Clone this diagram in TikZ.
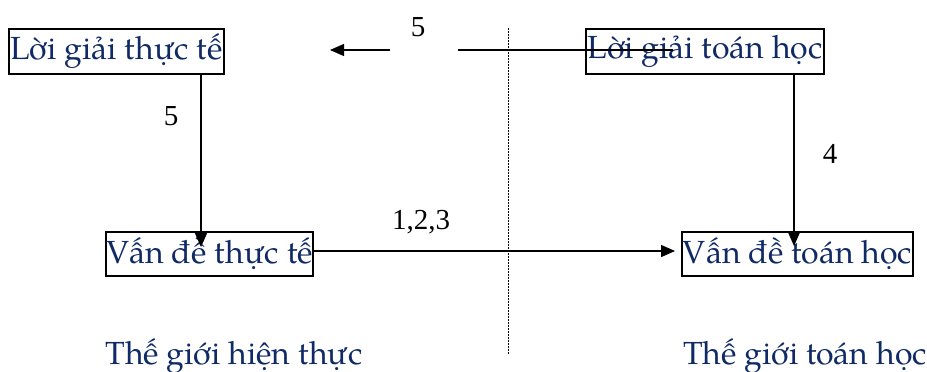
\documentclass[tikz,border=0pt]{standalone}
\usepackage{fontspec}
\setmainfont{TeX Gyre Pagella}
\newfontfamily\numfont{Liberation Serif}
\usetikzlibrary{arrows.meta}
\definecolor{txtblue}{RGB}{16,42,102}
\tikzset{
  box/.style={draw=black, line width=1.4pt, inner sep=0pt, text=txtblue,
    font=\fontsize{32}{36}\selectfont, fill=none},
  arr/.style={line width=1.4pt, -{Triangle[length=14pt,width=12pt]}},
  ln/.style={line width=1.4pt},
  num/.style={font=\numfont\fontsize{29}{32}\selectfont, inner sep=0pt},
  world/.style={text=txtblue, font=\fontsize{32}{36}\selectfont, inner sep=0pt}
}
\begin{document}
\begin{tikzpicture}[x=1pt,y=-1pt]
\useasboundingbox (0,0) rectangle (927,372);
% boxes
\node[box, minimum width=215pt, minimum height=45pt] (lgtt) at (116.5,51.5) {Lời giải thực tế};
\node[box, minimum width=238pt, minimum height=45pt] (lgth) at (705,51.5) {Lời giải toán học};
\node[box, minimum width=207pt, minimum height=44pt] (vdtt) at (209.5,254) {Vấn đề thực tế};
\node[box, minimum width=231pt, minimum height=44pt] (vdth) at (797.5,254) {Vấn đề toán học};
% coordinates
\coordinate (ta) at (673,50);
\coordinate (tb) at (458,50);
\coordinate (tc) at (390,50);
\coordinate (td) at (330,50);
\coordinate (lv) at (201,247);
\coordinate (rv) at (794,246);
\coordinate (ht) at (675,251);
\coordinate (dt) at (508,28);
\coordinate (db) at (508,355);
% connectors
\draw[ln] (ta) -- (tb);
\draw[arr] (tc) -- (td);
\draw[arr] (lgtt.south -| lv) -- (lv);
\draw[arr] (lgth.south -| rv) -- (rv);
\draw[arr] (vdtt.east |- ht) -- (ht);
\draw[line width=1pt, dash pattern=on 1.5pt off 1.5pt] (dt) -- (db);
% labels
\node[num] (n5a) at (418,27) {5};
\node[num] (n5b) at (171,116) {5};
\node[num] (n4) at (830,154) {4};
\node[num] (n123) at (421,222) {1,2,3};
\node[world, anchor=base] (wl) at (234,364) {Thế giới hiện thực};
\node[world, anchor=base] (wr) at (805,364) {Thế giới toán học};
\end{tikzpicture}
\end{document}
